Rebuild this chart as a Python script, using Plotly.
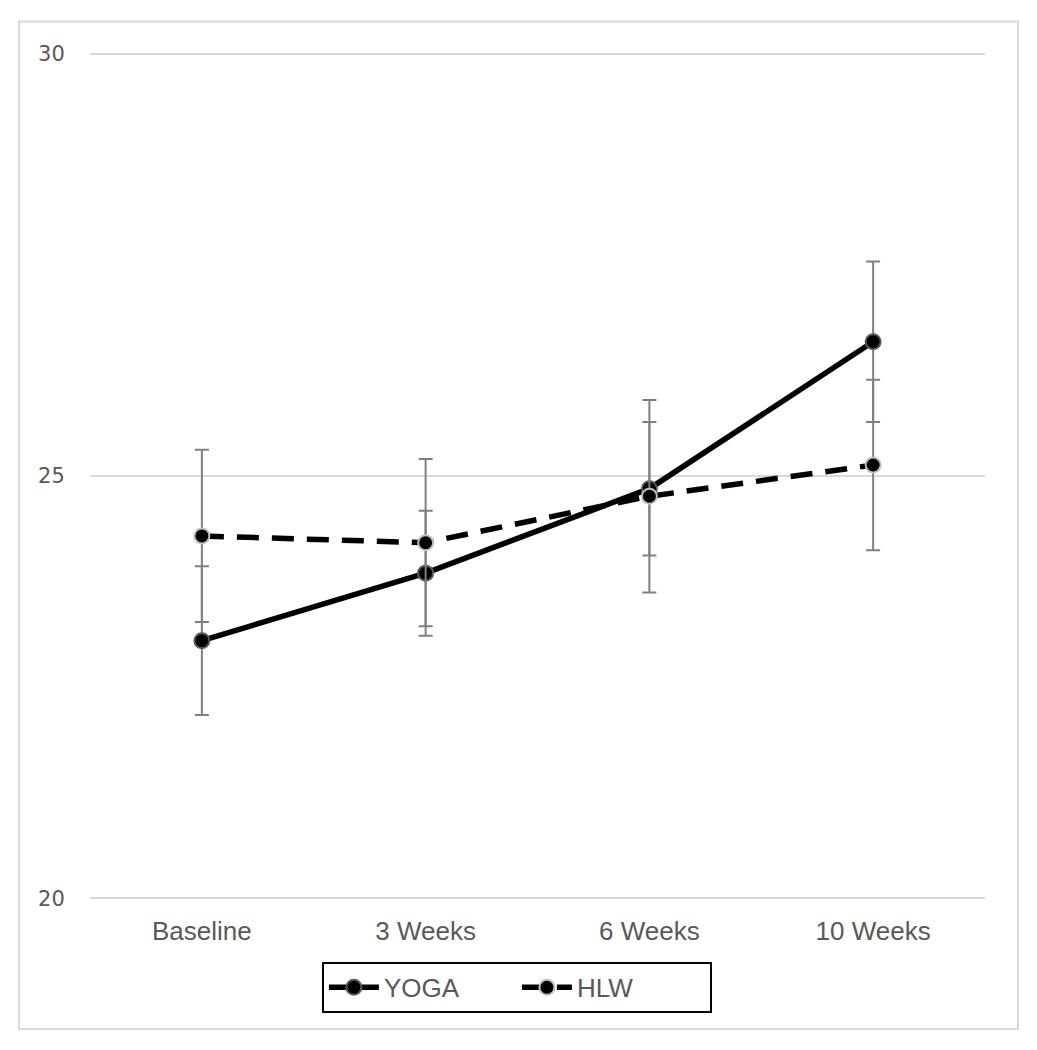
import plotly.graph_objects as go

# data
timepoints = ["Baseline", "3 Weeks", "6 Weeks", "10 Weeks"]
yoga_mean = [23.05, 23.85, 24.85, 26.59]
yoga_err = [0.88, 0.74, 0.79, 0.95]
hlw_mean = [24.29, 24.21, 24.76, 25.13]
hlw_err = [1.02, 0.99, 1.14, 1.01]
y_ticks = [20, 25, 30]

ERR_COLOR = "#7f7f7f"
TEXT_COLOR = "#595959"

fig = go.Figure()

fig.add_trace(
    go.Scatter(
        x=timepoints,
        y=yoga_mean,
        name="YOGA",
        mode="lines+markers",
        line=dict(color="black", width=5.5),
        marker=dict(size=15, color="black", line=dict(color="#595959", width=2)),
        error_y=dict(type="data", array=yoga_err, color=ERR_COLOR, thickness=2, width=7),
    )
)
fig.add_trace(
    go.Scatter(
        x=timepoints,
        y=hlw_mean,
        name="HLW",
        mode="lines+markers",
        line=dict(color="black", width=5.5, dash="22px,13px"),
        marker=dict(size=15, color="black", line=dict(color="#bfbfbf", width=2)),
        error_y=dict(type="data", array=hlw_err, color=ERR_COLOR, thickness=2, width=7),
    )
)

# outer frame around the whole chart
fig.add_shape(
    type="rect",
    xref="paper",
    yref="paper",
    x0=-0.0793,
    x1=1.0369,
    y0=-0.152,
    y1=1.036,
    line=dict(color="#d9d9d9", width=2),
    layer="below",
)

# the html page has an 8px body margin, so the figure is a bit smaller
fig.update_layout(
    width=1021,
    height=1034,
    margin=dict(l=82, r=44, t=44, b=142),
    plot_bgcolor="white",
    paper_bgcolor="white",
    showlegend=True,
    legend=dict(
        orientation="h",
        x=0.477,
        xanchor="center",
        y=-0.073,
        yanchor="top",
        bordercolor="black",
        borderwidth=2,
        itemwidth=50,
        entrywidth=128,
        font=dict(family="Liberation Sans, Arial, sans-serif", size=26, color=TEXT_COLOR),
    ),
)

fig.update_xaxes(
    range=[-0.5, 3.5],
    showgrid=False,
    showline=False,
    zeroline=False,
    ticks="outside",
    ticklen=8,
    tickcolor="rgba(0,0,0,0)",
    tickfont=dict(family="Liberation Sans, Arial, sans-serif", size=26, color=TEXT_COLOR),
)
fig.update_yaxes(
    range=[19.98, 30.02],
    tickvals=y_ticks,
    showgrid=True,
    gridcolor="#d9d9d9",
    gridwidth=1.5,
    zeroline=False,
    showline=False,
    ticks="outside",
    ticklen=20,
    tickcolor="rgba(0,0,0,0)",
    tickfont=dict(family="DejaVu Sans, sans-serif", size=21, color=TEXT_COLOR),
)

fig.write_html("out.html")
